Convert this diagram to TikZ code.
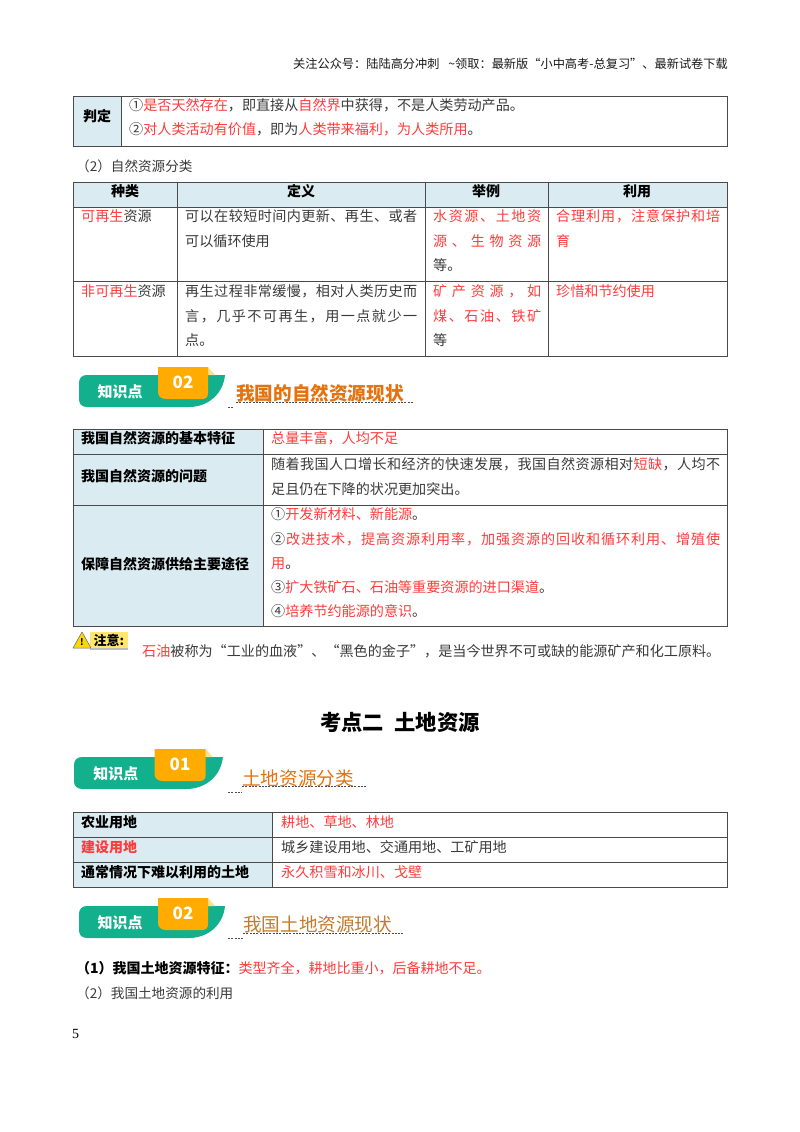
\documentclass[tikz,border=0pt]{standalone}
\usepackage{fontspec}
\setmainfont{Noto Sans CJK SC}
\newfontfamily\numfont{Liberation Serif}
\definecolor{bodytx}{HTML}{3A3A3A}
\definecolor{redtx}{HTML}{FF3B3B}
\definecolor{cellblue}{HTML}{DAEBF1}
\definecolor{rulec}{HTML}{4A4A4A}
\definecolor{bannerg}{HTML}{12B08C}
\definecolor{tabor}{HTML}{FFAB00}
\definecolor{foldy}{HTML}{FFE08A}
\definecolor{titleor}{HTML}{E3720F}
\definecolor{titlebr}{HTML}{C47A2C}
\newcommand\rd[1]{\textcolor{redtx}{#1}}
\newcommand\sprd[2]{\makebox[#1][s]{\spaceskip=0pt plus 1fil #2}}
\tikzset{
  txt/.style={anchor=base west,inner sep=0pt,text=bodytx,font=\fontsize{14.1}{14}\selectfont},
  stxt/.style={txt,font=\fontsize{13.6}{14}\selectfont},
  btxt/.style={txt,text=black,font=\fontsize{14}{14}\selectfont\bfseries},
  chead/.style={anchor=base,inner sep=0pt,text=black,font=\fontsize{14}{14}\selectfont\bfseries},
  grid/.style={draw=rulec,line width=0.9pt},
  under/.style={draw=black!70,line width=1pt,dash pattern=on 2pt off 1.3pt},
  title/.style={anchor=base west,inner sep=0pt,font=\fontsize{18.6}{20}\selectfont},
}
\newcommand\banner[4]{%
\begin{scope}[shift={(#1,#2)},xscale=#4]
  \fill[bannerg] (8,8) -- (146,8) .. controls (144,28) and (128,40) .. (110,40) -- (8,40)
     .. controls (2,40) and (0,36) .. (0,32) -- (0,16) .. controls (0,11) and (3,8) .. (8,8) -- cycle;
  \fill[foldy] (129,0) -- (136,8) -- (129,8) -- cycle;
  \fill[tabor] (79,0) -- (129,0) -- (129,26) .. controls (129,30) and (127,32) .. (123,32)
     -- (87,32) .. controls (82,32) and (79,29) .. (79,25) -- cycle;
  \node[anchor=center,inner sep=0pt,text=white,font=\fontsize{15}{15}\selectfont\bfseries] (#3a) at (41,25) {知识点};
  \node[anchor=center,inner sep=0pt,text=white,font=\fontsize{17}{18}\selectfont\bfseries] (#3b) at (104,15) {#3};
\end{scope}}
\begin{document}
\begin{tikzpicture}[x=1pt,y=-1pt]
\useasboundingbox (0,0) rectangle (800,1132);
\fill[white] (0,0) rectangle (800,1132);
% header
\node[anchor=base east,inner sep=0pt,text=black!90,font=\fontsize{12.2}{12}\selectfont] (hd) at (728,68)
  {关注公众号：陆陆高分冲刺 \hspace{0.5em}\textasciitilde 领取：最新版“小中高考-总复习”、最新试卷下载};
% table 1
\fill[cellblue] (73,96) rectangle (121,146);
\draw[grid] (73,96) rectangle (727,146) (121,96) -- (121,146);
\node[btxt,anchor=base] (t1a) at (97,121) {判定};
\node[txt] (t1b) at (129,110) {①\rd{是否天然存在}，即直接从\rd{自然界}中获得，不是人类劳动产品。};
\node[txt] (t1c) at (129,134) {②\rd{对人类活动有价值}，即为\rd{人类带来福利，为人类所用}。};
\node[stxt] (s2) at (76,171) {（2）自然资源分类};
% table 2
\fill[cellblue] (73,182) rectangle (727,207);
\draw[grid] (73,182) rectangle (727,356) (73,207) -- (727,207) (73,281) -- (727,281)
  (177,182) -- (177,356) (425,182) -- (425,356) (548,182) -- (548,356);
\node[chead] (h1) at (125,196) {种类};
\node[chead] (h2) at (301,196) {定义};
\node[chead] (h3) at (486,196) {举例};
\node[chead] (h4) at (637,196) {利用};
\node[txt] (r1a) at (81,221) {\rd{可再生}资源};
\node[txt] (r1b) at (185,221) {\sprd{232pt}{可 以 在 较 短 时 间 内 更 新 、 再 生 、 或 者}};
\node[txt] (r1c) at (185,246) {可以循环使用};
\node[txt] (r1d) at (433,221) {\sprd{108pt}{\rd{水 资 源 、 土 地 资}}};
\node[txt] (r1e) at (433,246) {\sprd{108pt}{\rd{源 、 生 物 资 源}}};
\node[txt] (r1f) at (433,270) {等。};
\node[txt] (r1g) at (556,221) {\sprd{164pt}{\rd{合 理 利 用 ， 注 意 保 护 和 培}}};
\node[txt] (r1h) at (556,246) {\rd{育}};
\node[txt] (r2a) at (81,296) {\rd{非可再生}资源};
\node[txt] (r2b) at (185,296) {\sprd{232pt}{再 生 过 程 非 常 缓 慢 ， 相 对 人 类 历 史 而}};
\node[txt] (r2c) at (185,321) {\sprd{232pt}{言 ， 几 乎 不 可 再 生 ， 用 一 点 就 少 一}};
\node[txt] (r2d) at (185,345) {点。};
\node[txt] (r2e) at (433,296) {\sprd{108pt}{\rd{矿 产 资 源 ， 如}}};
\node[txt] (r2f) at (433,321) {\sprd{108pt}{\rd{煤 、 石 油 、 铁 矿}}};
\node[txt] (r2g) at (433,345) {等};
\node[txt] (r2h) at (556,296) {\rd{珍惜和节约使用}};
% banner 1
\banner{79}{367}{02}{1}
\node[title,text=titleor,font=\fontsize{18.6}{20}\selectfont\bfseries] (b1t) at (236,400) {我国的自然资源现状};
\draw[under] (236,402) -- (414,402) (228,407) -- (234,407);
% table 3
\fill[cellblue] (73,429) rectangle (263,626);
\draw[grid] (73,429) rectangle (727,626) (73,454) -- (727,454) (73,505) -- (727,505) (263,429) -- (263,626);
\node[btxt] (c1a) at (81,443) {我国自然资源的基本特征};
\node[txt] (c1b) at (271,443) {\rd{总量丰富，人均不足}};
\node[btxt] (c2a) at (81,481) {我国自然资源的问题};
\node[txt] (c2b) at (271,469) {\sprd{449pt}{随 着 我 国 人 口 增 长 和 经 济 的 快 速 发 展 ， 我 国 自 然 资 源 相 对 \rd{短 缺} ， 人 均 不}};
\node[txt] (c2c) at (271,494) {足且仍在下降的状况更加突出。};
\node[btxt] (c3a) at (81,569) {保障自然资源供给主要途径};
\node[txt] (c3b) at (271,519) {①\rd{开发新材料、新能源}。};
\node[txt] (c3c) at (271,544) {\sprd{449pt}{② \rd{改 进 技 术 ， 提 高 资 源 利 用 率 ， 加 强 资 源 的 回 收 和 循 环 利 用 、 增 殖 使}}};
\node[txt] (c3d) at (271,568) {\rd{用}。};
\node[txt] (c3e) at (271,592) {③\rd{扩大铁矿石、石油等重要资源的进口渠道}。};
\node[txt] (c3f) at (271,616) {④\rd{培养节约能源的意识}。};
% note icon
\fill[foldy!80!yellow] (90,632) rectangle (128,648);
\fill[black!25] (90,648) rectangle (128,650);
\fill[yellow!75!orange,draw=black!60,line width=0.5pt,line join=round] (73,648) -- (82,632) -- (91,648) -- cycle;
\node[anchor=center,inner sep=0pt,text=black,font=\fontsize{9}{9}\selectfont\bfseries] (exc) at (82,642) {!};
\node[anchor=center,inner sep=0pt,text=black,font=\fontsize{13}{13}\selectfont\bfseries] (zy) at (109,640) {注意:};
\node[txt] (n1) at (142,656) {\rd{石油}被称为“工业的血液”、“黑色的金子”，是当今世界不可或缺的能源矿产和化工原料。};
% heading
\node[anchor=base,inner sep=0pt,text=black,font=\fontsize{21.3}{22}\selectfont\bfseries] (kd) at (400,730) {考点二\hspace{0.5em}土地资源};
% banner 2
\banner{74}{749}{01}{1.02}
\node[title,text=titleor] (b2t) at (242,785) {土地资源分类};
\draw[under] (242,786) -- (366,786) (228,792) -- (242,792);
% table 4
\fill[cellblue] (73,812) rectangle (272,887);
\draw[grid] (73,812) rectangle (727,887) (73,837) -- (727,837) (73,862) -- (727,862) (272,812) -- (272,887);
\node[btxt] (d1a) at (81,827) {农业用地};
\node[txt] (d1b) at (281,827) {\rd{耕地、草地、林地}};
\node[btxt,text=redtx] (d2a) at (81,852) {建设用地};
\node[txt] (d2b) at (281,852) {城乡建设用地、交通用地、工矿用地};
\node[btxt] (d3a) at (81,877) {通常情况下难以利用的土地};
\node[txt] (d3b) at (281,877) {\rd{永久积雪和冰川、戈壁}};
% banner 3
\banner{79}{898}{02}{1}
\node[title,text=titlebr] (b3t) at (243,931) {我国土地资源现状};
\draw[under] (243,933) -- (403,933) (228,938) -- (243,938);
% text
\node[btxt] (e1) at (76,973) {（1）我国土地资源特征：\textcolor{redtx}{\mdseries 类型齐全，耕地比重小，后备耕地不足。}};
\node[stxt] (e2) at (76,998) {（2）我国土地资源的利用};
\node[anchor=base west,inner sep=0pt,text=black,font=\numfont\fontsize{14}{14}\selectfont] (pg) at (72,1038) {5};
\end{tikzpicture}
\end{document}
